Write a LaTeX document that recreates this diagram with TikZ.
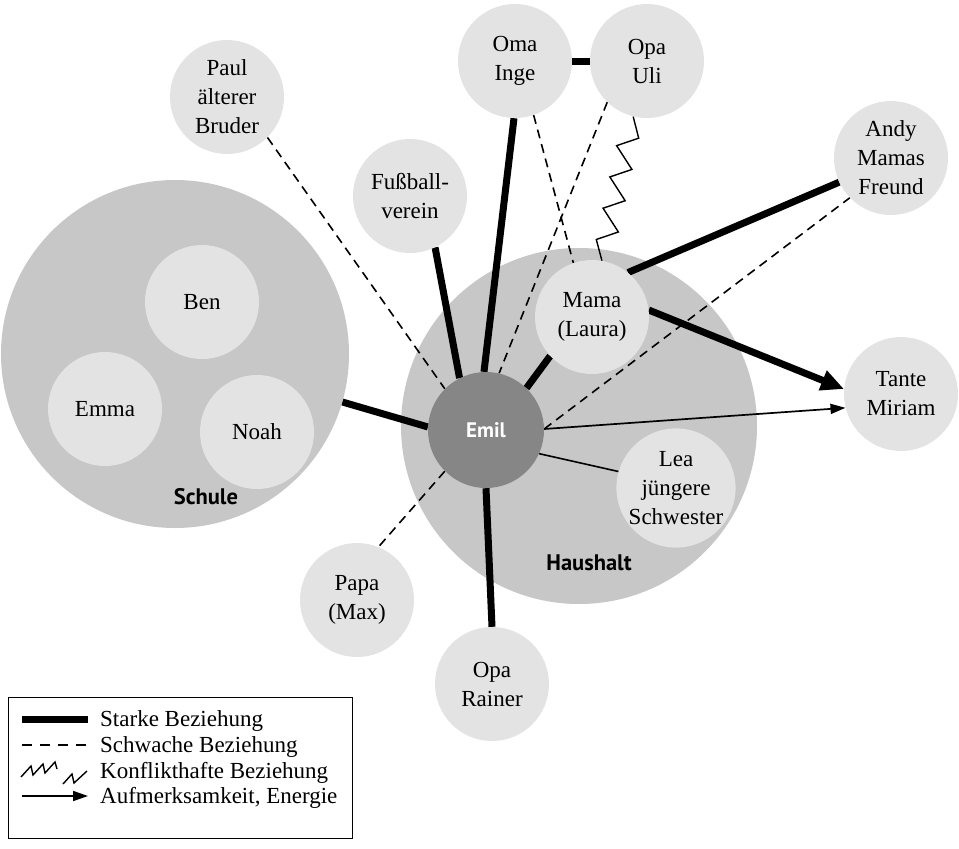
\documentclass[tikz,border=0pt]{standalone}
\usepackage{fontspec}
\setmainfont{Liberation Serif}
\newfontfamily\labelsans{PT Sans}
\usetikzlibrary{arrows.meta,decorations}
\definecolor{bigfill}{RGB}{198,199,198}
\definecolor{smallfill}{RGB}{227,227,227}
\definecolor{egofill}{RGB}{134,134,134}
\pgfdeclarelayer{background}
\pgfsetlayers{background,main}
\pgfdeclaredecoration{sawzig}{initial}{
  \state{initial}[width=32pt]{
    \pgfpathlineto{\pgfpoint{20pt}{10pt}}
    \pgfpathlineto{\pgfpoint{32pt}{-10pt}}
  }
  \state{final}{\pgfpathlineto{\pgfpointdecoratedpathlast}}
}
\begin{document}
\begin{tikzpicture}[x=1pt,y=-1pt,
  bigc/.style={circle, fill=bigfill, minimum size=#1, inner sep=0pt},
  person/.style={circle, fill=smallfill, minimum size=114pt, inner sep=0pt, align=center, font=\fontsize{23}{29}\selectfont},
  ego/.style={circle, fill=egofill, minimum size=116pt, inner sep=0pt, text=white, font=\labelsans\bfseries\fontsize{21}{25}\selectfont},
  grouplabel/.style={font=\labelsans\bfseries\fontsize{22.5}{26}\selectfont},
  legendtext/.style={anchor=base west, inner sep=0pt, font=\fontsize{23}{29}\selectfont},
  strong/.style={line width=7pt},
  weak/.style={line width=1.6pt, dash pattern=on 9pt off 6pt},
  thinline/.style={line width=1.6pt},
  conflict/.style={line width=1.4pt, decorate, decoration=sawzig, line join=miter},
  attention/.style={line width=1.7pt, -{Triangle[length=15pt,width=10pt]}},
  strongattention/.style={line width=7pt, -{Triangle[length=23pt,width=20pt]}}
]
\useasboundingbox (0,0) rectangle (959,849);

\begin{pgfonlayer}{background}
  \node[bigc=348pt] (schule) at (175,354) {};
  \node[bigc=356pt] (haushalt) at (579,426) {};
\end{pgfonlayer}

\node[person] (ben) at (202,302) {Ben};
\node[person] (emma) at (105,409) {Emma};
\node[person] (noah) at (257,432) {Noah};
\node[person] (mama) at (592,317) {Mama\\(Laura)};
\node[person] (lea) at (676,488) {Lea\\jüngere\\Schwester};
\node[person] (tante) at (901,394) {Tante\\Miriam};
\node[person] (andy) at (891,158) {Andy\\Mamas\\Freund};
\node[person] (oma) at (515,61) {Oma\\Inge};
\node[person] (opa) at (647,61) {Opa\\Uli};
\node[person] (paul) at (227,97) {Paul\\älterer\\Bruder};
\node[person] (fuss) at (410,196) {Fußball-\\verein};
\node[person] (papa) at (357,600) {Papa\\(Max)};
\node[person] (rainer) at (492,684) {Opa\\Rainer};
\node[ego] (emil) at (486,430) {Emil};

\node[grouplabel] (schulelbl) at (206,497) {Schule};
\node[grouplabel] (haushaltlbl) at (589,563) {Haushalt};

\begin{pgfonlayer}{background}
  \draw[strong] (schule.-16) -- (emil.177);
  \draw[weak] (paul.-45) -- (emil.135);
  \draw[strong] (fuss.-64) -- (emil.117);
  \draw[strong] (oma.-91) -- (emil.92);
  \draw[weak] (opa.226) -- (emil.77);
  \draw[weak] (oma.-71) -- (mama.109);
  \draw[conflict] (opa.256) -- (mama.80);
  \draw[strong] (oma) -- (opa);
  \draw[strong] (mama.223) -- (emil.46);
  \draw[strong] (mama.51) -- (andy.205);
  \draw[weak] (emil.1) -- (andy.224);
  \draw[strongattention] (mama.7) -- (tante.175);
  \draw[attention] (emil.1) -- (tante.194);
  \draw[thinline] (emil.-24) -- (lea.164);
  \draw[weak] (emil.225) -- (papa.68);
  \draw[strong] (emil.270) -- (rainer.90);
\end{pgfonlayer}

% legend
\node[draw, line width=1.3pt, minimum width=344pt, minimum height=141pt, anchor=north west, inner sep=0pt] (legend) at (8,697) {};
\draw[strong] (22,719) -- (88,719);
\draw[line width=1.6pt, dash pattern=on 10pt off 8pt] (22,745) -- (88,745);
\draw[line width=1.4pt, line join=miter] (21,777) -- (31,766) -- (33,775) -- (43,764) -- (45,773) -- (55,762) -- (57,769);
\draw[line width=1.4pt, line join=miter] (63,784) -- (72,774) -- (74,783) -- (87,771);
\draw[attention] (22,796) -- (88,796);
\node[legendtext] (l1) at (100,726) {Starke Beziehung};
\node[legendtext] (l2) at (100,752) {Schwache Beziehung};
\node[legendtext] (l3) at (100,778) {Konflikthafte Beziehung};
\node[legendtext] (l4) at (100,803) {Aufmerksamkeit, Energie};
\end{tikzpicture}
\end{document}
